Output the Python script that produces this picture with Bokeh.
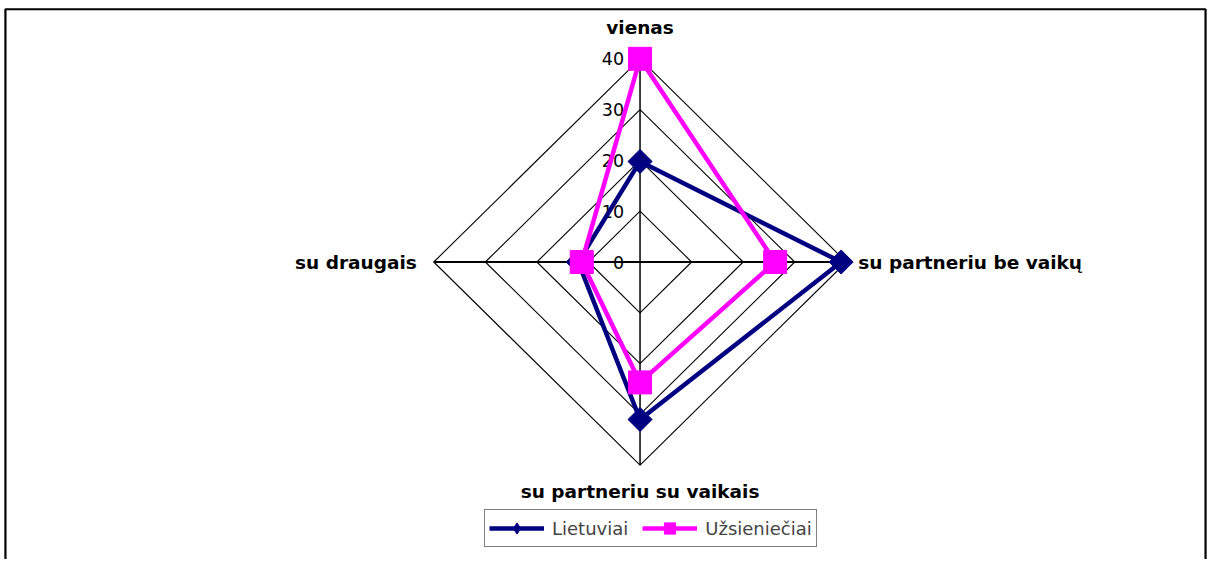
import math
from bokeh.plotting import figure
from bokeh.models import Range1d, Legend, LegendItem
from bokeh.core.properties import value
from bokeh.embed import file_html
from bokeh.resources import INLINE

categories = ["vienas", "su partneriu be vaikų", "su partneriu su vaikais", "su draugais"]
lietuviai = [19.8, 39, 31, 12]
uzsienieciai = [40, 26.2, 23.7, 11.3]
ticks = [0, 10, 20, 30, 40]
series_names = ["Lietuviai", "Užsieniečiai"]

RMAX = 40
W, H = 1209, 559
# layout constants (pixel geometry of the reference, scaled to the figure)
sx, sy = W / 1225, H / 575
cxp, cyp = 648 * sx, 269 * sy
kx, ky = 209 * sx / RMAX, 209 * sy / RMAX

p = figure(width=W, height=H, output_backend="svg", toolbar_location=None,
           x_range=Range1d(-cxp / kx, (W - cxp) / kx),
           y_range=Range1d(-(H - cyp) / ky, cyp / ky),
           min_border=0, min_border_left=0, min_border_right=0,
           min_border_top=0, min_border_bottom=0)
p.axis.visible = False
p.grid.visible = False
p.outline_line_color = None
p.background_fill_color = "white"
p.border_fill_color = "white"

def px2x(px):
    return (px * sx - cxp) / kx

def px2y(py):
    return (cyp - py * sy) / ky

# outer chart-area border
bx0, bx1 = px2x(5), px2x(1221)
by0, by1 = px2y(9), px2y(640)
p.line([bx0, bx0, bx1, bx1], [by1, by0, by0, by1], line_color="black", line_width=2.2)

angles = [math.pi / 2 - i * math.pi / 2 for i in range(len(categories))]

def to_xy(vals):
    xs = [v * math.cos(a) for v, a in zip(vals, angles)]
    ys = [v * math.sin(a) for v, a in zip(vals, angles)]
    return xs, ys

# grid diamonds
for t in ticks[1:]:
    xs, ys = to_xy([t] * len(categories))
    p.line(xs + [xs[0]], ys + [ys[0]], line_color="black", line_width=1.1)

# spokes
for i, a in enumerate(angles):
    p.line([0, RMAX * math.cos(a)], [0, RMAX * math.sin(a)], line_color="black",
           line_width=1.5 if i % 2 == 0 else 2)

# tick labels
p.text(x=[0] * len(ticks), y=ticks, text=[str(t) for t in ticks],
       x_offset=-16, text_align="right", text_baseline="middle",
       text_font=value("DejaVu Sans"), text_font_size="17.5px", text_color="black")

# category labels
lx, ly = to_xy([RMAX] * len(categories))
label_cfg = [
    dict(x_offset=0, y_offset=-31, text_align="center"),
    dict(x_offset=12, y_offset=0, text_align="left"),
    dict(x_offset=0, y_offset=26, text_align="center"),
    dict(x_offset=-17, y_offset=0, text_align="right"),
]
for i, c in enumerate(categories):
    p.text(x=[lx[i]], y=[ly[i]], text=[c], x_offset=label_cfg[i]["x_offset"],
           y_offset=label_cfg[i]["y_offset"], text_align=label_cfg[i]["text_align"],
           text_baseline="middle", text_font=value("DejaVu Sans"),
           text_font_style="bold", text_font_size="18.5px", text_color="black")

colors = ["#000080", "#FF00FF"]
items = []
far = [-5000]
for name, vals, col in zip(series_names, [lietuviai, uzsienieciai], colors):
    xs, ys = to_xy(vals)
    p.line(xs + [xs[0]], ys + [ys[0]], line_color=col, line_width=4.5)
    if name == "Lietuviai":
        p.scatter(xs, ys, marker="square", angle=math.pi / 4, size=17,
                  fill_color=col, line_color=col)
        lg_l = p.line(far, far, line_color=col, line_width=4.5)
        lg_m = p.scatter(far, far, marker="diamond", size=15,
                         fill_color=col, line_color=col)
    else:
        p.scatter(xs, ys, marker="square", size=23, fill_color=col, line_color=col)
        lg_l = p.line(far, far, line_color=col, line_width=4.5)
        lg_m = p.scatter(far, far, marker="square", size=11, fill_color=col, line_color=col)
    items.append(LegendItem(label=name, renderers=[lg_l, lg_m]))

legend = Legend(items=items, orientation="horizontal", location=(484, 12),
                glyph_width=55, glyph_height=28, label_text_font="DejaVu Sans",
                label_text_font_size="18px", label_standoff=8, spacing=14,
                padding=4, margin=0, border_line_color="black", border_line_width=1.2,
                background_fill_alpha=1, label_height=20)
p.add_layout(legend, "center")

open("out.html", "w").write(file_html(p, INLINE))
